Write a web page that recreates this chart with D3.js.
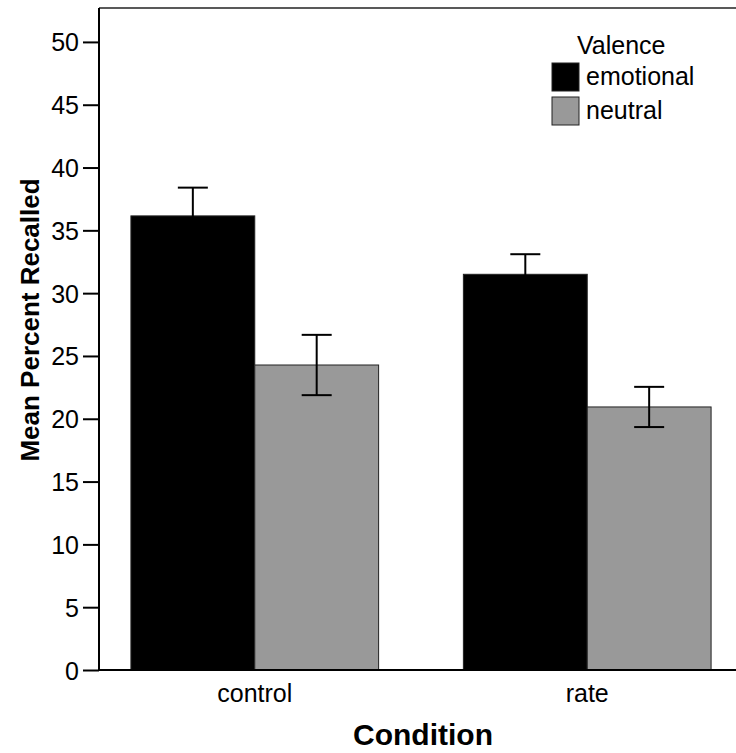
<!DOCTYPE html>
<html>
<head>
<meta charset="utf-8">
<script src="https://cdn.jsdelivr.net/npm/d3@7"></script>
<style>
  body { margin: 0; background: #fff; }
  text { font-family: "Liberation Sans", Arial, Helvetica, sans-serif; fill: #000; }
</style>
</head>
<body>
<div id="chart"></div>
<script>
// data
const conditions = ["control", "rate"];
const valences = ["emotional", "neutral"];
const emotionalMeans = [36.15, 31.5];
const neutralMeans = [24.28, 20.94];
const emotionalErr = [2.25, 1.6];
const neutralErr = [2.4, 1.6];
const yTicks = [0, 5, 10, 15, 20, 25, 30, 35, 40, 45, 50];
const colors = ["#000000", "#999999"];

const width = 736, height = 753;
const rows = [];
conditions.forEach((c, i) => {
  rows.push({ cond: c, val: valences[0], mean: emotionalMeans[i], err: emotionalErr[i] });
  rows.push({ cond: c, val: valences[1], mean: neutralMeans[i], err: neutralErr[i] });
});

const svg = d3.select("#chart").append("svg")
  .attr("width", width).attr("height", height);

const x0 = d3.scaleBand().domain(conditions).range([99, 743])
  .paddingInner(0.255).paddingOuter(0.096).align(0.5);
const x1 = d3.scaleBand().domain(valences).range([0, x0.bandwidth()]);
const y = d3.scaleLinear().domain([0, 52.7]).range([670, 8]);
const color = d3.scaleOrdinal().domain(valences).range(colors);

// frame top line
svg.append("line")
  .attr("x1", 99).attr("x2", width)
  .attr("y1", y(52.7)).attr("y2", y(52.7))
  .attr("stroke", "#222").attr("stroke-width", 1.5);

// bars
svg.append("g").selectAll("rect")
  .data(rows).enter().append("rect")
  .attr("x", d => x0(d.cond) + x1(d.val))
  .attr("y", d => y(d.mean))
  .attr("width", x1.bandwidth())
  .attr("height", d => y(0) - y(d.mean))
  .attr("fill", d => color(d.val))
  .attr("stroke", "#222").attr("stroke-width", 1);

// error bars
const eb = svg.append("g").selectAll("g")
  .data(rows).enter().append("g")
  .attr("transform", d => `translate(${x0(d.cond) + x1(d.val) + x1.bandwidth() / 2},0)`);
eb.append("line")
  .attr("y1", d => y(d.mean - d.err)).attr("y2", d => y(d.mean + d.err))
  .attr("stroke", "#000").attr("stroke-width", 2);
eb.selectAll(".cap").data(d => [d.mean - d.err, d.mean + d.err]).enter().append("line")
  .attr("x1", -15).attr("x2", 15)
  .attr("y1", v => y(v)).attr("y2", v => y(v))
  .attr("stroke", "#000").attr("stroke-width", 2);

// y axis
const yAxis = svg.append("g").attr("transform", "translate(99,0)")
  .call(d3.axisLeft(y).tickValues(yTicks).tickSize(16).tickPadding(4));
yAxis.select(".domain").remove();
yAxis.selectAll(".tick line").attr("stroke", "#000").attr("stroke-width", 2);
yAxis.selectAll(".tick text").style("font-size", "25px")
  .style("font-family", "'Liberation Sans', Arial, sans-serif").attr("dy", "0.36em");
svg.append("line").attr("x1", 99).attr("x2", 99)
  .attr("y1", y(52.7)).attr("y2", y(0)).attr("stroke", "#000").attr("stroke-width", 2);

// x axis
const xAxis = svg.append("g").attr("transform", "translate(0,670)")
  .call(d3.axisBottom(x0).tickSize(0).tickPadding(14));
xAxis.select(".domain").remove();
xAxis.selectAll(".tick text").style("font-size", "25px")
  .style("font-family", "'Liberation Sans', Arial, sans-serif");
svg.append("line").attr("x1", 99).attr("x2", width)
  .attr("y1", y(0)).attr("y2", y(0)).attr("stroke", "#000").attr("stroke-width", 2);

// axis titles
svg.append("text")
  .attr("transform", "translate(39,320) rotate(-90)")
  .attr("text-anchor", "middle")
  .style("font-size", "26px").style("font-weight", "bold")
  .text("Mean Percent Recalled");
svg.append("text")
  .attr("x", 423).attr("y", 745)
  .attr("text-anchor", "middle")
  .style("font-size", "30px").style("font-weight", "bold")
  .text("Condition");

// legend
const legend = svg.append("g");
legend.append("text").attr("x", 577).attr("y", 54)
  .style("font-size", "25px").text("Valence");
const li = legend.selectAll(".item").data(valences).enter().append("g")
  .attr("transform", (d, i) => `translate(552,${63 + i * 34})`);
li.append("rect").attr("width", 27).attr("height", 28)
  .attr("fill", d => color(d)).attr("stroke", "#222").attr("stroke-width", 1);
li.append("text").attr("x", 34).attr("y", 22)
  .style("font-size", "25px").text(d => d);
</script>
</body>
</html>
